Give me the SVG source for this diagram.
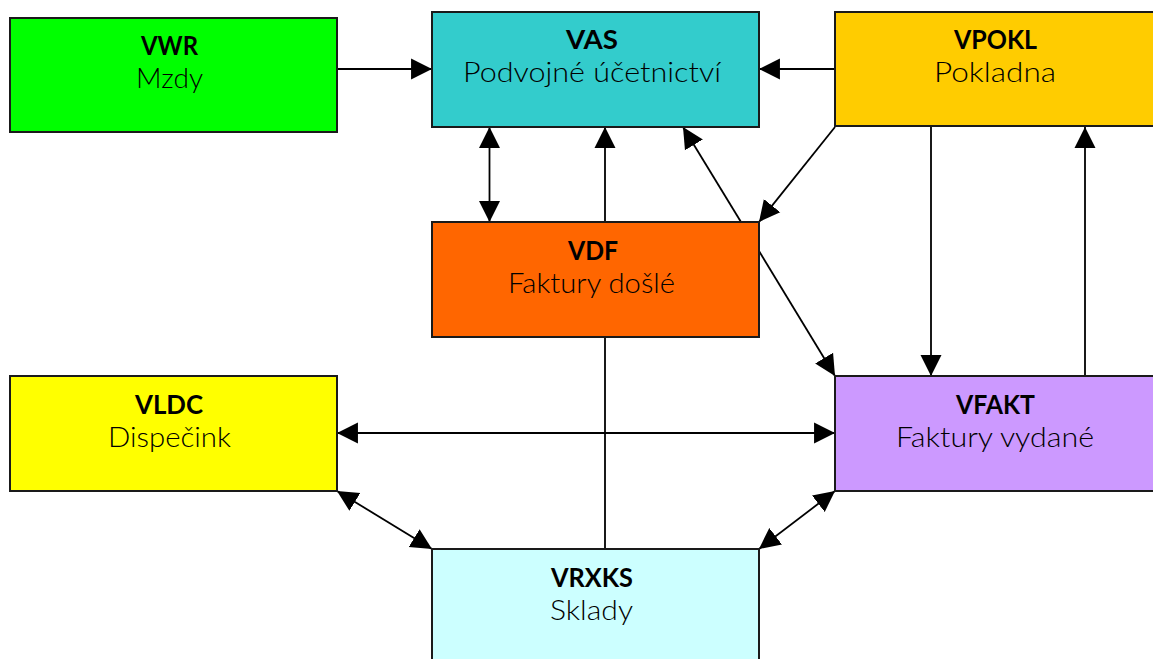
<svg xmlns="http://www.w3.org/2000/svg" width="1153" height="659" viewBox="0 0 1153 659">
<style>
.n{stroke:#1a1a1a;stroke-width:2}
.t{font-family:"Lato","Liberation Sans",sans-serif;font-size:27px;font-weight:300;text-anchor:middle;fill:#000}
.b{font-weight:bold;font-size:26px}
.c line{stroke:#000;stroke-width:1.8;fill:none}
</style>
<defs>
<marker id="a" markerUnits="userSpaceOnUse" markerWidth="22" markerHeight="22" refX="20" refY="10.5" orient="auto-start-reverse" viewBox="0 0 21 21"><path d="M0 0.5L20 10.5L0 20.5Z" fill="#000"/></marker>
</defs>
<rect width="1153" height="659" fill="#fff"/>
<g class="c">
<line x1="337" y1="69" x2="432" y2="69" marker-end="url(#a)"/>
<line x1="835" y1="69" x2="759" y2="69" marker-end="url(#a)"/>
<line x1="489.500" y1="127" x2="489.500" y2="222" marker-start="url(#a)" marker-end="url(#a)"/>
<line x1="605" y1="222" x2="605" y2="127" marker-end="url(#a)"/>
<line x1="835" y1="127" x2="759" y2="222" marker-end="url(#a)"/>
<line x1="741" y1="222" x2="683" y2="127" marker-end="url(#a)"/>
<line x1="759" y1="251" x2="835" y2="376" marker-end="url(#a)"/>
<line x1="931" y1="127" x2="931" y2="376" marker-end="url(#a)"/>
<line x1="1085" y1="376" x2="1085" y2="127" marker-end="url(#a)"/>
<line x1="337" y1="433" x2="835" y2="433" marker-start="url(#a)" marker-end="url(#a)"/>
<line x1="605" y1="337" x2="605" y2="549"/>
<line x1="337" y1="491" x2="432" y2="549" marker-start="url(#a)" marker-end="url(#a)"/>
<line x1="759" y1="549" x2="835" y2="491" marker-start="url(#a)" marker-end="url(#a)"/>
</g>
<g id="VWR"><rect class="n" x="10" y="18" width="327" height="114" fill="#0f0"/><text class="t b" x="169.500" y="55" textLength="57" lengthAdjust="spacingAndGlyphs">VWR</text><text class="t" x="169.500" y="88" textLength="67" lengthAdjust="spacingAndGlyphs">Mzdy</text></g>
<g id="VAS"><rect class="n" x="432" y="12" width="327" height="115" fill="#3cc"/><text class="t b" x="592" y="49" textLength="52" lengthAdjust="spacingAndGlyphs">VAS</text><text class="t" x="592" y="82" textLength="258" lengthAdjust="spacingAndGlyphs">Podvojné účetnictví</text></g>
<g id="VPOKL"><rect class="n" x="835" y="12" width="330" height="114" fill="#fc0"/><text class="t b" x="995.500" y="49" textLength="83" lengthAdjust="spacingAndGlyphs">VPOKL</text><text class="t" x="995" y="82" textLength="122" lengthAdjust="spacingAndGlyphs">Pokladna</text></g>
<g id="VDF"><rect class="n" x="432" y="222" width="327" height="115" fill="#f60"/><text class="t b" x="593" y="260" textLength="50" lengthAdjust="spacingAndGlyphs">VDF</text><text class="t" x="591.500" y="293" textLength="167" lengthAdjust="spacingAndGlyphs">Faktury došlé</text></g>
<g id="VLDC"><rect class="n" x="10" y="376" width="327" height="115" fill="#ff0"/><text class="t b" x="169" y="414" textLength="68" lengthAdjust="spacingAndGlyphs">VLDC</text><text class="t" x="169.500" y="447" textLength="123" lengthAdjust="spacingAndGlyphs">Dispečink</text></g>
<g id="VFAKT"><rect class="n" x="835" y="376" width="330" height="115" fill="#c9f"/><text class="t b" x="995.500" y="414" textLength="79" lengthAdjust="spacingAndGlyphs">VFAKT</text><text class="t" x="995" y="447" textLength="198" lengthAdjust="spacingAndGlyphs">Faktury vydané</text></g>
<g id="VRXKS"><rect class="n" x="432" y="549" width="327" height="115" fill="#cff"/><text class="t b" x="592" y="587" textLength="82" lengthAdjust="spacingAndGlyphs">VRXKS</text><text class="t" x="591.500" y="620" textLength="83" lengthAdjust="spacingAndGlyphs">Sklady</text></g>
</svg>
